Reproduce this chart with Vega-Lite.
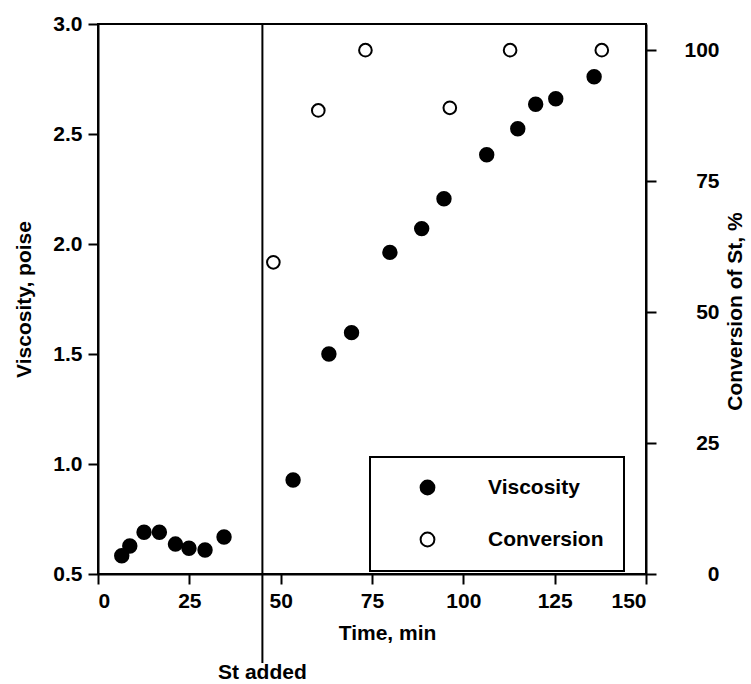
{
  "$schema": "https://vega.github.io/schema/vega-lite/v6.json",
  "width": 548,
  "height": 550,
  "autosize": {"type": "none"},
  "padding": {"left": 98, "top": 24, "right": 105, "bottom": 110},
  "background": "white",
  "datasets": {
    "measurements": [
      {"series": "Viscosity", "time": 6.5, "value": 0.583},
      {"series": "Viscosity", "time": 8.7, "value": 0.627},
      {"series": "Viscosity", "time": 12.6, "value": 0.69},
      {"series": "Viscosity", "time": 16.8, "value": 0.69},
      {"series": "Viscosity", "time": 21.2, "value": 0.636},
      {"series": "Viscosity", "time": 24.9, "value": 0.617},
      {"series": "Viscosity", "time": 29.3, "value": 0.609},
      {"series": "Viscosity", "time": 34.5, "value": 0.668},
      {"series": "Viscosity", "time": 53.4, "value": 0.927},
      {"series": "Viscosity", "time": 63.2, "value": 1.5},
      {"series": "Viscosity", "time": 69.4, "value": 1.597},
      {"series": "Viscosity", "time": 79.9, "value": 1.962},
      {"series": "Viscosity", "time": 88.6, "value": 2.07},
      {"series": "Viscosity", "time": 94.7, "value": 2.206},
      {"series": "Viscosity", "time": 106.4, "value": 2.406},
      {"series": "Viscosity", "time": 114.9, "value": 2.524},
      {"series": "Viscosity", "time": 119.8, "value": 2.635},
      {"series": "Viscosity", "time": 125.3, "value": 2.66},
      {"series": "Viscosity", "time": 135.8, "value": 2.76},
      {"series": "Conversion", "time": 48.0, "value": 59.5},
      {"series": "Conversion", "time": 60.3, "value": 88.5},
      {"series": "Conversion", "time": 73.2, "value": 100},
      {"series": "Conversion", "time": 96.3, "value": 89},
      {"series": "Conversion", "time": 112.8, "value": 100},
      {"series": "Conversion", "time": 137.9, "value": 100}
    ],
    "events": [
      {"label": "St added", "time": 45}
    ]
  },
  "encoding": {
    "x": {
      "field": "time",
      "type": "quantitative",
      "title": "Time,  min",
      "scale": {"domain": [0, 150], "nice": false, "zero": false},
      "axis": {
        "values": [0, 25, 50, 75, 100, 125, 150],
        "labelPadding": 6,
        "titlePadding": 11,
        "titleX": 289
      }
    }
  },
  "layer": [
    {
      "layer": [
        {
          "data": {"name": "measurements"},
          "transform": [{"filter": "datum.series === 'Viscosity'"}],
          "mark": {
            "type": "point",
            "shape": "circle",
            "filled": true,
            "size": 180,
            "stroke": "black",
            "strokeWidth": 2,
            "opacity": 1
          },
          "encoding": {
            "y": {
              "field": "value",
              "type": "quantitative",
              "title": "Viscosity, poise",
              "scale": {"domain": [0.5, 3.0], "nice": false, "zero": false},
              "axis": {
                "values": [0.5, 1.0, 1.5, 2.0, 2.5, 3.0],
                "format": ".1f",
                "labelPadding": 6,
                "titlePadding": 18
              }
            },
            "fill": {
              "field": "series",
              "type": "nominal",
              "scale": {"domain": ["Viscosity", "Conversion"], "range": ["black", "white"]},
              "legend": {
                "title": null,
                "orient": "none",
                "legendX": 272,
                "legendY": 433
              }
            }
          }
        },
        {
          "data": {"name": "events"},
          "mark": {"type": "rule", "color": "black", "strokeWidth": 2, "clip": false},
          "encoding": {
            "y": {"datum": 3.0},
            "y2": {"datum": 0.095}
          }
        },
        {
          "data": {"name": "events"},
          "mark": {
            "type": "text",
            "font": "Liberation Sans",
            "fontSize": 21,
            "fontWeight": "bold",
            "color": "black",
            "baseline": "alphabetic",
            "align": "center",
            "clip": false
          },
          "encoding": {
            "y": {"datum": 0.025},
            "text": {"field": "label"}
          }
        }
      ]
    },
    {
      "data": {"name": "measurements"},
      "transform": [{"filter": "datum.series === 'Conversion'"}],
      "mark": {
        "type": "point",
        "shape": "circle",
        "filled": true,
        "size": 160,
        "stroke": "black",
        "strokeWidth": 2,
        "opacity": 1
      },
      "encoding": {
        "y": {
          "field": "value",
          "type": "quantitative",
          "title": "Conversion of St, %",
          "scale": {"domain": [0, 105], "nice": false, "zero": true},
          "axis": {
            "orient": "right",
            "values": [0, 25, 50, 75, 100],
            "labelAlign": "right",
            "labelPadding": 63,
            "titleAngle": 270,
            "titleBaseline": "top",
            "titleAlign": "center",
            "titleX": 78,
            "titleY": 287
          }
        },
        "fill": {
          "field": "series",
          "type": "nominal",
          "scale": {"domain": ["Viscosity", "Conversion"], "range": ["black", "white"]},
          "legend": {
            "title": null,
            "orient": "none",
            "legendX": 272,
            "legendY": 433
          }
        }
      }
    }
  ],
  "resolve": {
    "scale": {"y": "independent"},
    "axis": {"y": "independent"}
  },
  "config": {
    "view": {"stroke": "black", "strokeWidth": 2},
    "axis": {
      "grid": false,
      "domainColor": "black",
      "domainWidth": 2,
      "tickColor": "black",
      "tickWidth": 2,
      "tickSize": 10,
      "labelFont": "Liberation Sans",
      "labelFontSize": 21,
      "labelFontWeight": "bold",
      "labelColor": "black",
      "labelOverlap": false,
      "titleFont": "Liberation Sans",
      "titleFontSize": 21,
      "titleFontWeight": "bold",
      "titleColor": "black"
    },
    "legend": {
      "strokeColor": "black",
      "strokeWidth": 2,
      "fillColor": "white",
      "padding": 20,
      "labelFont": "Liberation Sans",
      "labelFontSize": 21,
      "labelFontWeight": "bold",
      "labelColor": "black",
      "symbolType": "circle",
      "symbolSize": 190,
      "symbolStrokeColor": "black",
      "symbolStrokeWidth": 2,
      "symbolOffset": 27,
      "labelOffset": 50,
      "rowPadding": 29
    }
  }
}
